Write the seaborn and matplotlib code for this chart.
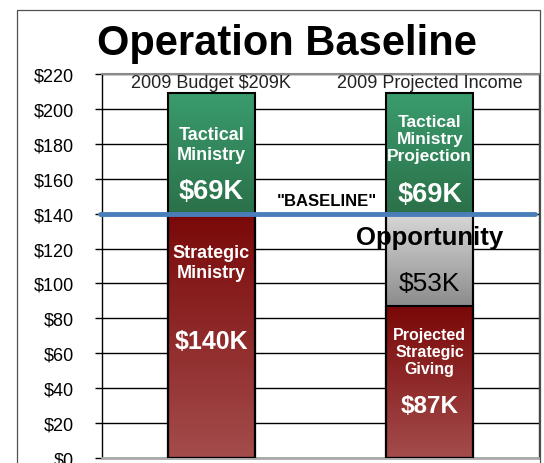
import numpy as np
import pandas as pd
import matplotlib
matplotlib.use("Agg")
import matplotlib.pyplot as plt
from matplotlib.colors import to_rgb
from matplotlib.patches import Rectangle
from matplotlib import font_manager
import seaborn as sns

# ---- data ----
categories = ["2009 Budget $209K", "2009 Projected Income"]
strategic = [140, 87]
opportunity = [0, 53]
tactical = [69, 69]
y_ticks = [0, 20, 40, 60, 80, 100, 120, 140, 160, 180, 200, 220]
y_tick_labels = ["$" + str(v) for v in y_ticks]
baseline_value = 140

sns.set_style("white")
plt.rcParams["font.family"] = ["Liberation Sans", "DejaVu Sans"]

names = {f.name for f in font_manager.fontManager.ttflist}
cat_family = "Liberation Sans Narrow" if "Liberation Sans Narrow" in names else "Liberation Sans"
cat_size = 15.5 if cat_family == "Liberation Sans Narrow" else 13

low = list(strategic)
mid = [s + o for s, o in zip(strategic, opportunity)]
total = [m + t for m, t in zip(mid, tactical)]
df = pd.DataFrame({"cat": categories, "low": low, "mid": mid, "total": total})

fig = plt.figure(figsize=(5.44, 4.64), dpi=100)
ax = fig.add_axes([102 / 544, 1 - 459 / 464, (539 - 102) / 544, (459 - 75) / 464])

layer_cols = ["total", "mid", "low"]
for col in layer_cols:
    sns.barplot(data=df, x="cat", y=col, order=categories, color="white",
                edgecolor="black", linewidth=1.5, width=0.4, saturation=1, ax=ax)

# gradient fill for each visible segment
grad = {
    "total": ("#3A9C6D", "#2B7049"),
    "mid": ("#D8D8D8", "#8C8C8C"),
    "low": ("#7A0808", "#A44C4C"),
}
lower_of = {"total": mid, "mid": low, "low": [0, 0]}
patches = list(ax.patches)
n = len(categories)
for li, col in enumerate(layer_cols):
    top_c, bot_c = grad[col]
    for i in range(n):
        p = patches[li * n + i]
        p.set_facecolor("none")
        p.set_zorder(3)
        y0 = lower_of[col][i]
        y1 = df[col][i]
        if y1 - y0 <= 0:
            continue
        N = 256
        t = np.linspace(0, 1, N)[:, None]
        c0 = np.array(to_rgb(bot_c)); c1 = np.array(to_rgb(top_c))
        img = (c0 * (1 - t) + c1 * t)[:, None, :]
        ax.imshow(img, extent=(p.get_x(), p.get_x() + p.get_width(), y0, y1),
                  origin="lower", aspect="auto", zorder=2, interpolation="bilinear")

ax.set_xlim(-0.5, 1.5)
ax.set_ylim(0, 220)
ax.set_xlabel("")
ax.set_ylabel("")
ax.set_yticks(y_ticks)
ax.set_yticklabels(y_tick_labels, fontsize=13, color="black")
ax.tick_params(axis="y", length=5, width=1, color="black", pad=15, left=True)
ax.yaxis.grid(True, color="black", linewidth=1)
ax.set_axisbelow(True)

# category labels on top line
ax.xaxis.tick_top()
ax.tick_params(axis="x", length=0, pad=-12.5, labelsize=cat_size, labelcolor="#222222")
for lab in ax.get_xticklabels():
    lab.set_family([cat_family, "DejaVu Sans"])
    lab.set_bbox(dict(facecolor="white", edgecolor="none", pad=1.5))
    lab.set_zorder(6)

for s in ["left", "top", "right"]:
    ax.spines[s].set_visible(True)
    ax.spines[s].set_color("black")
    ax.spines[s].set_linewidth(1)
ax.spines["top"].set_color("#8A8A8A")
ax.spines["top"].set_linewidth(1.5)
ax.spines["right"].set_color("#404040")
ax.spines["bottom"].set_color("#A8A8A8")
ax.spines["bottom"].set_linewidth(2)

# baseline
ax.axhline(baseline_value, xmin=-0.005, xmax=0.99, color="#4A7EBB",
           linewidth=3.5, zorder=5, clip_on=False)

# bar texts
wkw = dict(color="white", ha="center", va="center", fontweight="bold", zorder=7)
ax.text(0, 179.5, "Tactical\nMinistry", fontsize=13, linespacing=1.2, **wkw)
ax.text(0, 153, "$69K", fontsize=19.5, **wkw)
ax.text(0, 112, "Strategic\nMinistry", fontsize=13, linespacing=1.2, **wkw)
ax.text(0, 67, "$140K", fontsize=18, **wkw)
ax.text(1, 183, "Tactical\nMinistry\nProjection", fontsize=12.5, linespacing=1.15, **wkw)
ax.text(1, 151, "$69K", fontsize=19.5, **wkw)
ax.text(1, 61, "Projected\nStrategic\nGiving", fontsize=11.5, linespacing=1.2, **wkw)
ax.text(1, 30, "$87K", fontsize=17.5, **wkw)
ax.text(1, 126.6, "Opportunity", fontsize=18.5, fontweight="bold", color="black",
        ha="center", va="center", zorder=7)
ax.text(1, 100, "$53K", fontsize=19, color="black", ha="center", va="center", zorder=7)
ax.text(0.529, 147.5, "\"BASELINE\"", fontsize=12, fontweight="bold", color="black",
        ha="center", va="center", zorder=7)

# title
fig.text(287 / 544, 1 - 55 / 464, "Operation Baseline", fontsize=30, fontweight="bold",
         ha="center", va="baseline", color="black")

# outer frame
fig.patches.append(Rectangle((17 / 544, -0.1), (540 - 17) / 544, 1 - 11 / 464 + 0.1,
                             transform=fig.transFigure, fill=False,
                             edgecolor="#505050", linewidth=0.9, zorder=0))

fig.savefig("out.png", dpi=100)
